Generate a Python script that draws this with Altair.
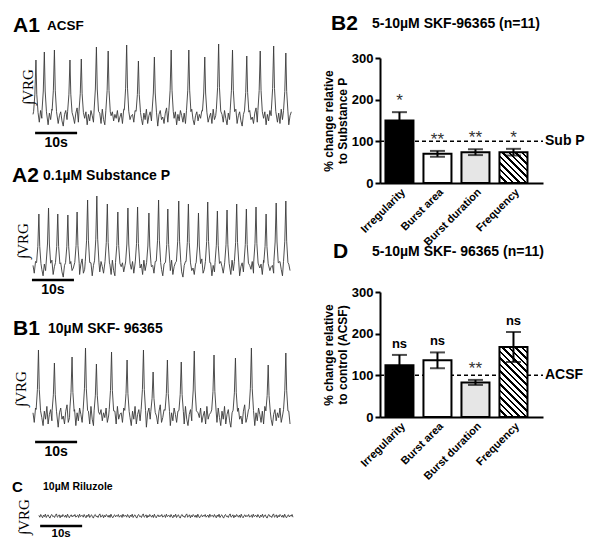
import altair as alt
import pandas as pd

# ---------------- bar-chart data ----------------
categories = ["Irregularity", "Burst area", "Burst duration", "Frequency"]
b2_mean = [150, 70, 74, 74]
b2_sem = [20, 7, 7, 8]
b2_sig = ["*", "**", "**", "*"]
d_mean = [124, 136, 83, 168]
d_sem = [25, 19, 6, 36]
d_sig = ["ns", "ns", "**", "ns"]
y_ticks = [0, 100, 200, 300]

# ---------------- trace data: burst times (s) and amplitudes (a.u.) ----------------
a1_t = [0.7, 2.7, 5.1, 8.8, 11.5, 15.1, 17.9, 22.3, 25.1, 28.9, 32.9, 37.1, 40.9,
        44.2, 47.5, 50.9, 54.1, 57.3, 60.2]
a1_amp = [57, 65, 67, 57, 58, 70, 66, 72, 56, 60, 67, 67, 60, 73, 67, 61, 66, 71, 64]
a2_t = [1.4, 3.7, 5.9, 8.3, 10.5, 13.0, 15.2, 17.7, 20.2, 22.6, 24.9, 27.6, 29.9,
        32.1, 34.7, 37.0, 39.4, 41.6, 43.9, 46.2, 48.5, 50.8, 53.1, 55.5, 57.9, 60.2]
a2_amp = [54, 60, 54, 53, 56, 68, 72, 64, 56, 60, 61, 55, 68, 59, 67, 64, 55, 66,
          57, 58, 64, 59, 61, 54, 65, 67]
b1_t = [1.3, 5.1, 9.3, 12.5, 15.1, 18.7, 22.4, 26.3, 28.6, 32.0, 35.3, 38.4, 43.1,
        48.2, 52.0, 56.0, 60.2]
b1_amp = [66, 53, 59, 68, 52, 64, 56, 66, 44, 56, 54, 65, 61, 58, 68, 51, 63]
c_t = []
c_amp = []
baseline_noise = [2, -4, 5, -1, -6, 3, -2, 6, -5, 1, 4, -3, -7, 2, 5, -2, 0, -5, 3, 7,
                  -4, -1, 4, -6, 2, -3, 5, 1, -4, 3, -5, 6, -2, -6, 1, 4, -3, 2, -1, 5,
                  -4, 0, 3, -5, 6, -2, 1]

# ---------------- layout (pixels inside the chart) ----------------
W, H = 584, 534
SANS = "Liberation Sans"
SERIF = "Liberation Serif"
PX_PER_S = 4.2
T_X0 = 25
AX0, AX1 = 372, 535

burst_dt = [-0.55, -0.25, 0.0, 0.2, 0.5]
burst_frac = [0.10, 0.40, 1.0, 0.40, 0.08]


def build_trace(t_peaks, amps, t0, t1, gain, step=0.3):
    rows = []
    n = len(baseline_noise)
    i = 0
    t = t0
    while t <= t1:
        if all(abs(t - tp) > 0.6 for tp in t_peaks):
            rows.append((round(t, 3), gain * baseline_noise[i % n]))
            i += 1
        t += step
    for tp, a in zip(t_peaks, amps):
        for dt, f in zip(burst_dt, burst_frac):
            tt = tp + dt
            if t0 <= tt <= t1:
                rows.append((round(tt, 3), f * a))
    rows.sort()
    return pd.DataFrame(rows, columns=["t", "v"])


def label_layer(text, x, y, size, weight="bold", font=SANS, angle=0, align="left"):
    return alt.Chart(pd.DataFrame({"s": [text]})).mark_text(
        font=font, fontSize=size, fontWeight=weight, color="black",
        align=align, baseline="middle", angle=angle
    ).encode(x=alt.value(x), y=alt.value(y), text="s:N")


def trace_panel(df, y_base, bar_t0, bar_y, big, sub, big_xy, sub_xy, big_size,
                sub_size, vrg_xy, ten_size, ten_dy):
    xs = alt.Scale(domain=[0, 62], range=[T_X0, T_X0 + 62 * PX_PER_S], nice=False, zero=False)
    ys = alt.Scale(domain=[0, 100], range=[y_base, y_base - 100], nice=False, zero=False)
    line = alt.Chart(df).mark_line(color="#3a3a3a", strokeWidth=0.9).encode(
        x=alt.X("t:Q", scale=xs, axis=None),
        y=alt.Y("v:Q", scale=ys, axis=None),
    )
    bar_df = pd.DataFrame({"t0": [bar_t0], "t1": [bar_t0 + 10], "mid": [bar_t0 + 5],
                           "y": [bar_y], "lab": ["10s"]})
    sbar = alt.Chart(bar_df).mark_rule(color="black", strokeWidth=2.5).encode(
        x=alt.X("t0:Q", scale=xs, axis=None), x2="t1:Q",
        y=alt.Y("y:Q", scale=ys, axis=None),
    )
    stext = alt.Chart(bar_df).mark_text(
        font=SANS, fontSize=ten_size, fontWeight="bold", color="black",
        baseline="middle", dy=ten_dy
    ).encode(
        x=alt.X("mid:Q", scale=xs, axis=None),
        y=alt.Y("y:Q", scale=ys, axis=None),
        text="lab:N",
    )
    return alt.layer(
        line, sbar, stext,
        label_layer(big, big_xy[0], big_xy[1], big_size),
        label_layer(sub, sub_xy[0], sub_xy[1], sub_size),
        label_layer("∫VRG", vrg_xy[0], vrg_xy[1], 15, weight="normal", font=SERIF,
                    angle=270, align="center"),
    )


def hatch_fill(w, h, period=6.5, thick=2.2):
    L = w + h
    k = L / (w * w + h * h)
    stops = []
    p = 0.0
    while p < L:
        a = p / L
        b = min((p + thick) / L, 1.0)
        c = min((p + period) / L, 1.0)
        stops += [{"offset": a, "color": "black"}, {"offset": b, "color": "black"},
                  {"offset": b, "color": "white"}, {"offset": c, "color": "white"}]
        p += period
    return {"gradient": "linear", "x1": 0, "y1": 1, "x2": k * w, "y2": 1 - k * h,
            "stops": stops}


def bar_panel(means, sems, sigs, y0, ref_label, title_big, title_sub, big_xy, sub_xy):
    px_per_unit = 125 / 300
    df = pd.DataFrame({
        "cat": categories,
        "mean": means,
        "lo": [m - s for m, s in zip(means, sems)],
        "hi": [m + s for m, s in zip(means, sems)],
        "sig": sigs,
    })
    xs = alt.Scale(domain=categories, range=[AX0, AX1], paddingInner=0.263,
                   paddingOuter=0.276, align=0.26)
    ys = alt.Scale(domain=[0, 300], range=[y0, y0 - 125], nice=False, zero=True)
    x_axis = alt.Axis(orient="bottom", offset=y0 - H, domainColor="black", domainWidth=2,
                      ticks=False, labelAngle=-45, labelAlign="right", labelBaseline="top",
                      labelFont=SANS, labelFontSize=11, labelFontWeight="bold",
                      labelColor="black", labelPadding=3, title=None, grid=False)
    y_axis = alt.Axis(orient="left", offset=-AX0, values=y_ticks, domainColor="black",
                      domainWidth=2, tickColor="black", tickWidth=2, tickSize=5,
                      labelFont=SANS, labelFontSize=13, labelFontWeight="bold",
                      labelColor="black", labelPadding=2, grid=False,
                      title=["% change relative",
                             "to Substance P" if ref_label == "Sub P" else "to control (ACSF)"],
                      titleFont=SANS, titleFontSize=12, titleFontWeight="bold",
                      titleColor="black", titlePadding=2)
    X = alt.X("cat:N", scale=xs, axis=x_axis)

    bw = 38 * (1 - 0.263)
    fills = {
        "Irregularity": "black",
        "Burst area": "white",
        "Burst duration": "#e6e6e6",
        "Frequency": hatch_fill(bw, means[3] * px_per_unit),
    }
    ref_df = pd.DataFrame({"ref": [100], "lab": [ref_label]})
    ref = alt.Chart(ref_df).mark_rule(color="black", strokeWidth=1.5, strokeDash=[4, 3]).encode(
        x=alt.value(AX0), x2=alt.value(AX1),
        y=alt.Y("ref:Q", scale=ys, axis=y_axis),
    )
    ref_text = alt.Chart(ref_df).mark_text(
        font=SANS, fontSize=14, fontWeight="bold", color="black", align="left",
        baseline="middle", dx=2
    ).encode(x=alt.value(AX1), y=alt.Y("ref:Q", scale=ys, axis=y_axis), text="lab:N")

    bars = []
    for c in categories:
        bars.append(
            alt.Chart(df).transform_filter(alt.datum.cat == c).mark_bar(
                fill=fills[c], stroke="black", strokeWidth=2
            ).encode(x=X, y=alt.Y("mean:Q", scale=ys, axis=y_axis))
        )
    whisk = alt.Chart(df).mark_rule(color="black", strokeWidth=2).encode(
        x=X, y=alt.Y("lo:Q", scale=ys, axis=y_axis), y2="hi:Q")
    cap_hi = alt.Chart(df).mark_tick(color="black", size=15, thickness=2).encode(
        x=X, y=alt.Y("hi:Q", scale=ys, axis=y_axis))
    cap_lo = alt.Chart(df).mark_tick(color="black", size=15, thickness=2).encode(
        x=X, y=alt.Y("lo:Q", scale=ys, axis=y_axis))
    stars = alt.Chart(df).transform_filter(alt.datum.sig != "ns").mark_text(
        font=SANS, fontSize=17, color="#333333", baseline="alphabetic", dy=-6
    ).encode(x=X, y=alt.Y("hi:Q", scale=ys, axis=y_axis), text="sig:N")
    ns = alt.Chart(df).transform_filter(alt.datum.sig == "ns").mark_text(
        font=SANS, fontSize=13, fontWeight="bold", color="black", baseline="alphabetic", dy=-7
    ).encode(x=X, y=alt.Y("hi:Q", scale=ys, axis=y_axis), text="sig:N")

    return alt.layer(
        ref, *bars, whisk, cap_hi, cap_lo, stars, ns, ref_text,
        label_layer(title_big, big_xy[0], big_xy[1], 21),
        label_layer(title_sub, sub_xy[0], sub_xy[1], 14),
    )


pA1 = trace_panel(build_trace(a1_t, a1_amp, 0, 61.7, 1.3), 109, 0.5, -16,
                  "A1", "ACSF", (5, 17.5), (39, 17.5), 21, 13.5, (20, 79), 14, 10)
pA2 = trace_panel(build_trace(a2_t, a2_amp, 0, 61.2, 1.3), 260, -0.25, -12,
                  "A2", "0.1µM Substance P", (4, 167.5), (35, 168), 21, 14, (15, 233), 14, 10)
pB1 = trace_panel(build_trace(b1_t, b1_amp, 0, 61.4, 1.6), 408, 0.5, -26,
                  "B1", "10µM SKF- 96365", (5, 321), (40, 321), 21, 14, (13, 381), 14, 10)
pC = trace_panel(build_trace(c_t, c_amp, 1.4, 61.9, 0.3, step=0.22), 508, 1.7, -10,
                 "C", "10µM Riluzole", (4, 479), (35, 479), 15, 10.5, (16, 509), 11.5, 8)

pB2 = bar_panel(b2_mean, b2_sem, b2_sig, 175, "Sub P", "B2", "5-10µM SKF-96365 (n=11)",
                (323, 15.5), (364, 15.5))
pD = bar_panel(d_mean, d_sem, d_sig, 409, "ACSF", "D", "5-10µM SKF- 96365 (n=11)",
               (325, 244), (364, 244))

chart = alt.layer(pA1, pA2, pB1, pC, pB2, pD).resolve_scale(
    x="independent", y="independent"
).properties(
    width=W, height=H, autosize="none", padding=0
).configure_view(strokeWidth=0)

chart.save("out.html", embed_options={"renderer": "svg", "actions": False})
